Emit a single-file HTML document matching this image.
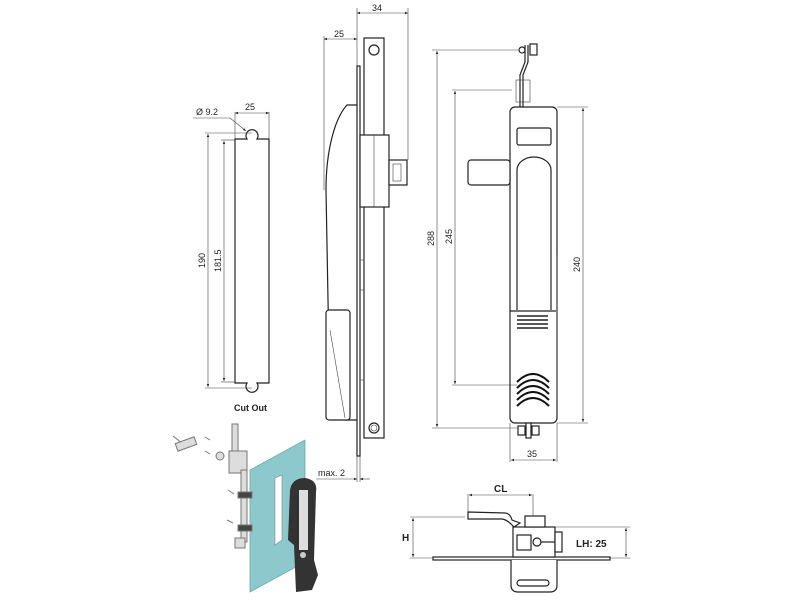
<!DOCTYPE html>
<html><head><meta charset="utf-8"><style>
html,body{margin:0;padding:0;background:#fff}
svg{display:block}
text{font-family:"Liberation Sans",Arial,sans-serif;font-size:9px;fill:#222}
.l{stroke:#222;stroke-width:1.2;fill:none}
.t{stroke:#444;stroke-width:0.6;fill:none}
.w{stroke:#222;stroke-width:1.2;fill:#fff}
</style></head><body>
<svg width="800" height="600" viewBox="0 0 800 600" xmlns="http://www.w3.org/2000/svg">
<defs>
<marker id="a" viewBox="0 0 10 10" refX="10" refY="5" markerWidth="5" markerHeight="5" orient="auto-start-reverse"><path d="M0,1L10,5L0,9z" fill="#222"/></marker>
</defs>

<!-- Cut out -->
<path class="l" d="M235,139 H247 A6,6 0 1 1 257,139 H269 V383 H257 A6,6 0 1 1 247,383 H235 Z"/>
<line class="t" x1="235" y1="112" x2="235" y2="139"/><line class="t" x1="269" y1="112" x2="269" y2="139"/>
<line class="t" x1="235" y1="113" x2="269" y2="113" marker-start="url(#a)" marker-end="url(#a)"/>
<text x="245" y="110">25</text>
<line class="t" x1="193" y1="118" x2="230" y2="118"/><line class="t" x1="230" y1="118" x2="246" y2="131" marker-end="url(#a)"/>
<text x="196" y="115">Ø 9.2</text>
<line class="t" x1="205" y1="133" x2="252" y2="133"/><line class="t" x1="205" y1="388" x2="252" y2="388"/>
<line class="t" x1="208" y1="134" x2="208" y2="387" marker-start="url(#a)" marker-end="url(#a)"/>
<line class="t" x1="221" y1="140" x2="235" y2="140"/><line class="t" x1="221" y1="382" x2="235" y2="382"/>
<line class="t" x1="224" y1="141" x2="224" y2="381" marker-start="url(#a)" marker-end="url(#a)"/>
<text transform="translate(205,268) rotate(-90)">190</text>
<text transform="translate(221,272) rotate(-90)">181.5</text>
<text x="234" y="411" style="font-weight:bold;font-size:9px">Cut Out</text>

<!-- Side view -->
<rect class="l" x="357" y="66" width="3" height="390"/>
<rect class="w" x="364" y="38" width="20" height="400"/>
<circle class="l" cx="374" cy="50" r="5"/>
<circle class="l" cx="374" cy="428" r="5"/><circle class="t" cx="374" cy="428" r="3"/>
<path class="l" d="M357,105 H347 C335,118 326,150 326,190 L328,300 C328,330 334,350 340,380 L346,420 H357"/>
<rect class="w" x="326" y="310" width="24" height="110" rx="3"/>
<path class="t" d="M330,330 L345,418"/>
<rect class="w" x="360" y="135" width="29" height="72"/>
<line class="t" x1="374" y1="135" x2="374" y2="207"/>
<rect class="w" x="389" y="160" width="18" height="25"/>
<rect class="t" x="393" y="164" width="8" height="17"/>
<line class="t" x1="360" y1="260" x2="364" y2="260"/><line class="t" x1="360" y1="290" x2="364" y2="290"/><line class="t" x1="360" y1="380" x2="364" y2="380"/>
<line class="t" x1="357" y1="8" x2="357" y2="66"/><line class="t" x1="408" y1="8" x2="408" y2="160"/>
<line class="t" x1="357" y1="13" x2="408" y2="13" marker-start="url(#a)" marker-end="url(#a)"/>
<text x="372" y="11">34</text>
<line class="t" x1="324" y1="36" x2="324" y2="190"/>
<line class="t" x1="324" y1="39" x2="357" y2="39" marker-start="url(#a)" marker-end="url(#a)"/>
<text x="334" y="37">25</text>
<line class="t" x1="357" y1="456" x2="357" y2="482"/><line class="t" x1="360" y1="456" x2="360" y2="482"/>
<line class="t" x1="316" y1="479" x2="357" y2="479" marker-end="url(#a)"/>
<line class="t" x1="370" y1="479" x2="360" y2="479" marker-end="url(#a)"/>
<text x="318" y="476">max. 2</text>

<!-- Front view -->
<path class="l" d="M520,108 L520,75 L525,62 L525,45"/>
<path class="l" d="M523,108 L523,75 L528,62 L528,45"/>
<circle class="l" cx="522" cy="50" r="3"/><rect class="w" x="530" y="44" width="7" height="11"/>
<rect class="t" x="516" y="80" width="14" height="22" stroke="#bbb"/>
<rect class="w" x="510" y="107" width="47" height="316" rx="5"/>
<rect class="l" x="517" y="128" width="34" height="17" rx="2"/>
<path class="l" d="M517,310 V170 A17,13 0 0 1 551,170 V310"/>
<rect class="w" x="468" y="160" width="42" height="25" rx="3"/>
<path class="l" d="M510,311 H556"/>
<line x1="517" y1="316" x2="548" y2="316" stroke="#222" stroke-width="1.6"/>
<line x1="517" y1="320" x2="548" y2="320" stroke="#222" stroke-width="1.6"/>
<line x1="517" y1="324" x2="548" y2="324" stroke="#222" stroke-width="1.6"/>
<line x1="517" y1="328" x2="548" y2="328" stroke="#222" stroke-width="1.6"/>
<g stroke="#111" stroke-width="2" fill="none">
<path d="M517,382 Q533,366 549,382"/><path d="M517,388 Q533,372 549,388"/><path d="M517,394 Q533,378 549,394"/><path d="M517,400 Q533,384 549,400"/><path d="M517,406 Q533,390 549,406"/>
</g>
<line class="t" x1="557" y1="255" x2="557" y2="400"/>
<rect class="w" x="526" y="423" width="5" height="15"/><rect class="w" x="518" y="426" width="7" height="9"/><rect class="w" x="532" y="426" width="7" height="9"/>
<line class="t" x1="432" y1="50" x2="518" y2="50"/><line class="t" x1="432" y1="428" x2="518" y2="428"/>
<line class="t" x1="437" y1="51" x2="437" y2="427" marker-start="url(#a)" marker-end="url(#a)"/>
<text transform="translate(434,246) rotate(-90)">288</text>
<line class="t" x1="452" y1="90" x2="512" y2="90"/><line class="t" x1="452" y1="385" x2="517" y2="385"/>
<line class="t" x1="455" y1="91" x2="455" y2="384" marker-start="url(#a)" marker-end="url(#a)"/>
<text transform="translate(452,244) rotate(-90)">245</text>
<line class="t" x1="557" y1="107" x2="588" y2="107"/><line class="t" x1="557" y1="423" x2="588" y2="423"/>
<line class="t" x1="583" y1="108" x2="583" y2="422" marker-start="url(#a)" marker-end="url(#a)"/>
<text transform="translate(580,272) rotate(-90)">240</text>
<line class="t" x1="510" y1="423" x2="510" y2="462"/><line class="t" x1="557" y1="423" x2="557" y2="462"/>
<line class="t" x1="511" y1="460" x2="556" y2="460" marker-start="url(#a)" marker-end="url(#a)"/>
<text x="527" y="457">35</text>

<!-- Bottom view -->
<rect class="l" x="433" y="557" width="177" height="3" fill="#fff"/>
<rect class="w" x="513" y="527" width="42" height="30"/>
<rect class="w" x="525" y="516" width="20" height="11"/>
<rect class="w" x="555" y="532" width="7" height="20"/>
<rect class="l" x="517" y="535" width="14" height="15"/><circle class="l" cx="537" cy="542" r="4"/>
<line class="l" x1="541" y1="542" x2="555" y2="542"/>
<path class="w" d="M468,512 L505,513 Q510,513 512,520 L520,523 L514,527 Q508,520 502,519 L468,519 Z"/>
<path class="w" d="M511,560 V585 Q511,592 518,592 H550 Q557,592 557,585 V560"/>
<rect class="l" x="517" y="580" width="32" height="6" rx="3"/>
<line class="t" x1="410" y1="517" x2="465" y2="517"/><line class="t" x1="410" y1="558" x2="433" y2="558"/>
<line class="t" x1="413" y1="518" x2="413" y2="557" marker-start="url(#a)" marker-end="url(#a)"/>
<text x="402" y="541" style="font-weight:bold;font-size:10px">H</text>
<line class="t" x1="555" y1="527" x2="630" y2="527"/><line class="t" x1="610" y1="558" x2="630" y2="558"/>
<line class="t" x1="626" y1="528" x2="626" y2="557" marker-start="url(#a)" marker-end="url(#a)"/>
<text x="576" y="547" style="font-weight:bold;font-size:10px">LH: 25</text>
<line class="t" x1="468" y1="494" x2="468" y2="512"/><line class="t" x1="533" y1="494" x2="533" y2="516"/>
<line class="t" x1="469" y1="495" x2="532" y2="495" marker-start="url(#a)" marker-end="url(#a)"/>
<text x="494" y="492" style="font-weight:bold;font-size:10px">CL</text>

<!-- Exploded view -->
<polygon points="250,470 305,440 305,562 250,592" fill="#8cc8cc" stroke="#6aa" stroke-width="0.8"/>
<polygon points="275,478 282,475 282,540 275,545" fill="#fff" stroke="#888" stroke-width="0.6"/>
<path d="M290,490 Q292,478 305,478 Q318,480 316,492 L314,560 L318,575 L312,590 L296,592 L294,545 L288,540 Z" fill="#333"/>
<rect x="299" y="490" width="9" height="60" fill="#ddd"/>
<circle cx="303" cy="555" r="3" fill="#ccc"/>
<g stroke="#777" stroke-width="1" fill="#ddd">
<path d="M173,436 L183,444"/>
<rect x="176" y="440" width="20" height="8" transform="rotate(-20 186 444)"/>
<rect x="232" y="424" width="6" height="30"/>
<rect x="229" y="451" width="18" height="22"/>
<circle cx="220" cy="456" r="4"/>
<rect x="241" y="470" width="6" height="72"/>
<rect x="238" y="492" width="14" height="6" fill="#444"/>
<rect x="238" y="525" width="14" height="6" fill="#444"/>
<rect x="235" y="538" width="10" height="10"/>
<path d="M205,437 L210,440 M205,451 L210,454 M228,490 L234,494 M227,520 L233,523"/>
</g>
</svg>
</body></html>
